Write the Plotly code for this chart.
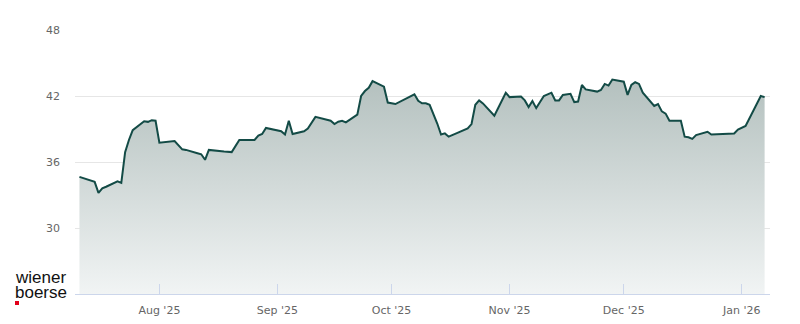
import plotly.graph_objects as go

dates = [
    "2025-07-11", "2025-07-15", "2025-07-16", "2025-07-17", "2025-07-18", "2025-07-21",
    "2025-07-22", "2025-07-23", "2025-07-24", "2025-07-25", "2025-07-28", "2025-07-29",
    "2025-07-30", "2025-07-31", "2025-08-01", "2025-08-05", "2025-08-07", "2025-08-08",
    "2025-08-11", "2025-08-12", "2025-08-13", "2025-08-14", "2025-08-18", "2025-08-20",
    "2025-08-22", "2025-08-26", "2025-08-27", "2025-08-28", "2025-08-29", "2025-09-01",
    "2025-09-02", "2025-09-03", "2025-09-04", "2025-09-05", "2025-09-08", "2025-09-09",
    "2025-09-11", "2025-09-15", "2025-09-16", "2025-09-17", "2025-09-18", "2025-09-19",
    "2025-09-22", "2025-09-23", "2025-09-24", "2025-09-25", "2025-09-26", "2025-09-29",
    "2025-09-30", "2025-10-02", "2025-10-07", "2025-10-08", "2025-10-09", "2025-10-10",
    "2025-10-11", "2025-10-13", "2025-10-14", "2025-10-15", "2025-10-16", "2025-10-18",
    "2025-10-21", "2025-10-22", "2025-10-23", "2025-10-24", "2025-10-25", "2025-10-28",
    "2025-10-31", "2025-11-01", "2025-11-04", "2025-11-05", "2025-11-06", "2025-11-07",
    "2025-11-08", "2025-11-10", "2025-11-12", "2025-11-13", "2025-11-14", "2025-11-15",
    "2025-11-17", "2025-11-18", "2025-11-19", "2025-11-20", "2025-11-21", "2025-11-24",
    "2025-11-25", "2025-11-26", "2025-11-27", "2025-11-28", "2025-12-01", "2025-12-02",
    "2025-12-03", "2025-12-04", "2025-12-05", "2025-12-06", "2025-12-09", "2025-12-10",
    "2025-12-11", "2025-12-12", "2025-12-13", "2025-12-16", "2025-12-17", "2025-12-18",
    "2025-12-19", "2025-12-20", "2025-12-23", "2025-12-24", "2025-12-30", "2025-12-31",
    "2026-01-02", "2026-01-06", "2026-01-07",
]
prices = [
    34.65, 34.2, 33.2, 33.6, 33.75, 34.25,
    34.1, 36.9, 38.0, 38.9, 39.7, 39.65,
    39.8, 39.75, 37.75, 37.9, 37.15, 37.1,
    36.8, 36.7, 36.2, 37.1, 36.95, 36.9,
    38.0, 38.0, 38.4, 38.55, 39.1, 38.9,
    38.8, 38.5, 39.75, 38.55, 38.8, 39.05,
    40.1, 39.75, 39.45, 39.66, 39.75, 39.6,
    40.3, 42.0, 42.45, 42.75, 43.35, 42.85,
    41.4, 41.27, 42.15, 41.57, 41.33, 41.33,
    41.2, 39.5, 38.5, 38.6, 38.3, 38.6,
    39.06, 39.45, 41.2, 41.6, 41.33, 40.2,
    42.3, 41.9, 41.96, 41.6, 41.0, 41.55,
    40.9, 42.0, 42.3, 41.6, 41.6, 42.1,
    42.2, 41.45, 41.5, 43.0, 42.6, 42.4,
    42.55, 43.1, 42.95, 43.5, 43.3, 42.1,
    43.0, 43.25, 43.1, 42.3, 41.1, 41.27,
    40.6, 40.4, 39.75, 39.75, 38.3, 38.25,
    38.1, 38.45, 38.75, 38.5, 38.6, 38.95,
    39.27, 42.0, 41.9,
]
y_ticks = [30, 36, 42, 48]

fig = go.Figure()
fig.add_trace(go.Scatter(
    x=dates, y=prices, mode="lines",
    line=dict(color="#134b46", width=2),
    fill="tozeroy",
    fillgradient=dict(type="vertical", start=24, stop=44,
                      colorscale=[[0, "rgb(241,244,244)"], [1, "rgb(178,191,189)"]]),
    hoverinfo="skip",
))

W, H = 800, 324
L, R, T, B = 75, 30, 30, 30
pw, ph = W - L - R, H - T - B

def px(x):
    return (x - L) / pw

def py(y):
    return (H - B - y) / ph

logo_font = dict(family="Liberation Sans, Arial, sans-serif", size=17, color="#111111")

fig.update_layout(
    width=W, height=H,
    margin=dict(l=L, r=R, t=T, b=B, autoexpand=False),
    paper_bgcolor="white", plot_bgcolor="white",
    showlegend=False,
    font=dict(family="DejaVu Sans, sans-serif", size=11, color="#666666"),
    xaxis=dict(
        type="date", automargin=False,
        range=["2025-07-09 20:00", "2026-01-08 10:00"],
        tick0="2025-08-01", dtick="M1", tickformat="%b '%y",
        showgrid=False, zeroline=False,
        showline=True, linecolor="#ccd6eb", linewidth=1,
        ticks="inside", ticklen=10, tickcolor="#ccd6eb",
        tickfont=dict(size=11, color="#666666"),
        ticklabelstandoff=6,
    ),
    yaxis=dict(
        range=[24, 48], tickvals=y_ticks, automargin=False,
        showgrid=True, gridcolor="#e6e6e6", gridwidth=1,
        zeroline=False, showline=False,
        tickfont=dict(size=11, color="#666666"),
        ticklabelstandoff=14,
    ),
    annotations=[
        dict(text="wiener", xref="paper", yref="paper", x=px(14), y=py(277),
             xanchor="left", yanchor="middle", showarrow=False, borderpad=0,
             font=logo_font),
        dict(text="boerse", xref="paper", yref="paper", x=px(14), y=py(292),
             xanchor="left", yanchor="middle", showarrow=False, borderpad=0,
             font=logo_font),
    ],
    shapes=[
        dict(type="rect", xref="paper", yref="paper",
             x0=px(15), x1=px(19), y0=py(305), y1=py(301),
             fillcolor="#e2001a", line=dict(width=0)),
    ],
)

fig.write_html("out.html", config={"displayModeBar": False})
